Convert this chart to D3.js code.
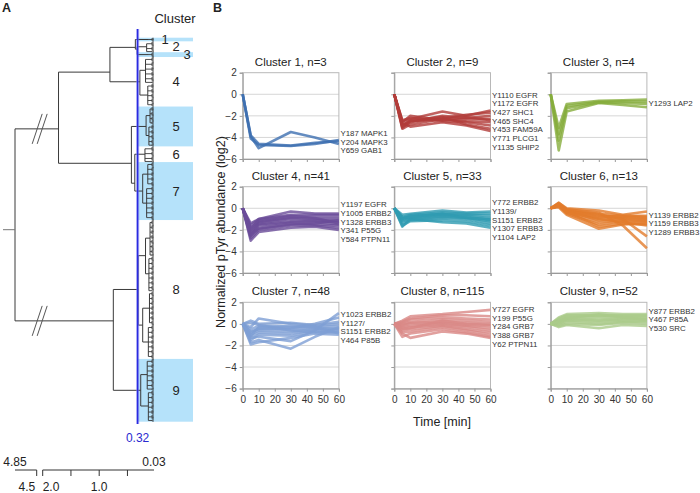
<!DOCTYPE html>
<html><head><meta charset="utf-8">
<script src="https://cdn.jsdelivr.net/npm/d3@7"></script>
<style>
body{margin:0;background:#fff;}
text{font-family:"Liberation Sans",Arial,sans-serif;}
</style>
</head><body>
<svg id="c" width="700" height="493"></svg>
<script>
// ---------------- DATA ----------------
const timePoints = [0, 5, 10, 30, 45, 60];
const xTicks = [0, 10, 20, 30, 40, 50, 60];
const yTicks = [2, 0, -2, -4, -6];
const clusterIds = [1, 2, 3, 4, 5, 6, 7, 8, 9];
const clusterSizes = [3, 9, 4, 41, 33, 13, 48, 115, 52];
const clusterColors = ["#3d6fb0", "#b23c3a", "#86ad3c", "#6a4c98", "#2f9bb2", "#e27c2c", "#7e9fd4", "#d98886", "#aacb8a"];
const highlightedClusters = [1, 3, 5, 7, 9];
const cutHeight = 0.32;

// dendrogram: leaf groups (ordered top to bottom), their cluster, size and merge height
const groupIds      = ["1", "2", "3", "4a", "4b", "5a", "5b", "6", "7a", "7b", "8a", "8b", "8c", "8d", "9a", "9b"];
const groupClusters = [1, 2, 3, 4, 4, 5, 5, 6, 7, 7, 8, 8, 8, 8, 9, 9];
const groupSizes    = [3, 9, 4, 22, 19, 15, 18, 13, 20, 28, 30, 29, 28, 28, 26, 26];
const groupHeights  = [0.12, 0.16, 0.12, 0.18, 0.14, 0.10, 0.12, 0.19, 0.14, 0.16, 0.10, 0.12, 0.11, 0.13, 0.15, 0.13];
const bundleHeight = 0.065;   // height of the smallest visible leaf bundles
const bundleSize = 4;
// merges: [child A, child B, height, new id]
const merges = [
  ["4a", "4b", 0.28, "c4"],
  ["5a", "5b", 0.17, "c5"],
  ["7a", "7b", 0.23, "c7"],
  ["8a", "8b", 0.18, "8ab"],
  ["8c", "8d", 0.23, "8cd"],
  ["8ab", "8cd", 0.31, "c8"],
  ["9a", "9b", 0.265, "c9"],
  ["2", "3", 0.33, "23"],
  ["1", "23", 0.36, "123"],
  ["123", "c4", 0.81, "1234"],
  ["6", "c7", 0.37, "67"],
  ["c5", "67", 0.43, "567"],
  ["1234", "567", 1.72, "1to7"],
  ["c8", "c9", 0.75, "89"],
  ["1to7", "89", 4.85, "root"]
];
const scaleTicksRight = [2.0, 1.5, 1.0, 0.5];
const scaleLabelsRight = [2.0, 1.0];
const scaleTicksLeft = [4.5];
const scaleEnds = [4.85, 0.03];

// time courses (log2), one row per representative line, at timePoints
const series1 = [
  [0, -3.9, -5.0, -3.5, -4.0, -4.6],
  [0, -4.1, -4.7, -4.8, -4.6, -4.25],
  [0, -3.8, -4.6, -4.75, -4.5, -4.35]
];
const series2 = [
  [0, -2.5, -2.3, -1.6, -2.0, -1.5],
  [0, -2.8, -2.5, -2.2, -1.9, -1.7],
  [0, -3.0, -2.6, -2.0, -2.2, -2.0],
  [0, -2.6, -2.0, -2.4, -2.3, -2.3],
  [0, -3.2, -2.8, -2.3, -2.5, -2.6],
  [0, -2.4, -2.2, -2.5, -2.6, -2.9],
  [0, -2.9, -2.4, -2.1, -2.8, -3.2],
  [0, -2.7, -3.0, -2.6, -2.9, -3.4],
  [0, -3.1, -2.5, -2.3, -2.1, -2.4]
];
const series3 = [
  [0, -3.1, -0.9, -0.6, -0.55, -0.5],
  [0, -3.7, -1.1, -0.7, -0.65, -0.7],
  [0, -4.3, -1.3, -0.75, -0.8, -0.9],
  [0, -5.2, -1.6, -0.8, -1.0, -1.2]
];
const series4 = [
  [0, -1.4, -1.0, -0.3, -0.5, -0.5],
  [0, -1.6, -1.0, -0.6, -0.6, -0.6],
  [0, -1.8, -1.2, -0.8, -0.8, -0.8],
  [0, -2.0, -1.3, -0.9, -1.0, -1.0],
  [0, -2.2, -1.4, -1.0, -1.1, -1.2],
  [0, -2.3, -1.5, -1.2, -1.2, -1.3],
  [0, -2.5, -1.6, -1.3, -1.3, -1.5],
  [0, -2.6, -1.8, -1.4, -1.5, -1.6],
  [0, -2.8, -2.0, -1.6, -1.6, -1.8],
  [0, -3.0, -2.2, -1.8, -1.7, -2.0],
  [0, -2.4, -1.9, -1.5, -1.4, -1.1],
  [0, -1.9, -1.1, -0.7, -0.9, -1.4]
];
const series5 = [
  [0, -0.6, -0.5, -0.2, -0.4, -0.3],
  [0, -0.8, -0.6, -0.4, -0.5, -0.5],
  [0, -0.9, -0.7, -0.5, -0.6, -0.7],
  [0, -1.0, -0.8, -0.6, -0.7, -0.9],
  [0, -1.1, -0.9, -0.7, -0.8, -1.1],
  [0, -1.2, -1.0, -0.8, -0.9, -1.2],
  [0, -1.4, -1.1, -0.9, -1.0, -1.4],
  [0, -1.6, -1.2, -1.1, -1.2, -1.6],
  [0, -1.7, -1.0, -1.3, -1.4, -1.8],
  [0, -0.9, -0.8, -0.5, -0.9, -1.0]
];
const series6 = [
  [0, 0.5, 0.0, -0.2, -0.6, -0.3],
  [0, 0.4, -0.1, -0.5, -0.7, -0.7],
  [0, 0.3, -0.2, -0.7, -0.8, -0.9],
  [0, 0.3, -0.3, -0.9, -0.9, -1.0],
  [0, 0.2, -0.2, -1.1, -1.0, -1.1],
  [0, 0.4, -0.4, -1.3, -1.1, -1.2],
  [0, 0.2, -0.5, -1.5, -1.2, -1.3],
  [0, 0.3, -0.3, -1.7, -1.4, -1.5],
  [0, 0.1, -0.6, -1.9, -1.5, -1.4],
  [0, 0.3, -0.2, -0.6, -1.0, -2.6],
  [0, 0.5, -0.1, -0.4, -1.6, -3.7],
  [0, 0.2, -0.4, -1.0, -1.3, -1.6],
  [0, 0.3, -0.2, -0.8, -0.7, -0.8]
];
const series7 = [
  [0, 0.3, 0.0, 0.1, -0.1, 0.2],
  [0, -0.3, 0.5, 0.0, -0.2, 0.0],
  [0, -0.5, -0.2, -0.3, -0.3, -0.2],
  [0, -0.8, -0.4, -0.5, -0.4, -0.4],
  [0, -1.0, -0.6, -0.7, -0.5, -0.5],
  [0, -1.2, -0.8, -0.9, -0.6, -0.6],
  [0, -1.5, -1.0, -1.1, -0.7, -0.8],
  [0, -1.9, -1.7, -1.3, -0.9, -1.0],
  [0, -1.7, -1.5, -2.3, -1.2, -0.3],
  [0, -1.3, -1.2, -1.6, -0.6, 1.0],
  [0, -0.7, -0.5, -0.4, 0.0, 0.6],
  [0, -1.1, -0.3, -0.2, -0.3, -0.9],
  [0, 0.1, -0.1, -0.6, -0.8, -0.7]
];
const series8 = [
  [0, 0.3, 0.7, 0.9, 1.1, 1.3],
  [0, 0.2, 0.5, 0.8, 0.8, 0.7],
  [0, 0.1, 0.4, 0.6, 0.5, 0.4],
  [0, 0.0, 0.2, 0.4, 0.3, 0.2],
  [0, -0.1, 0.1, 0.2, 0.1, 0.0],
  [0, -0.2, 0.0, 0.1, -0.1, -0.2],
  [0, -0.3, -0.2, 0.0, -0.2, -0.4],
  [0, -0.4, -0.3, -0.1, -0.3, -0.6],
  [0, -0.6, -0.5, -0.2, -0.5, -0.8],
  [0, -0.8, -0.7, -0.3, -0.6, -1.0],
  [0, -1.2, -0.9, -0.5, -0.8, -1.2],
  [0, -0.9, -1.3, -0.7, -0.9, -1.3],
  [0, -0.5, -0.4, 0.3, 0.0, -0.1]
];
const series9 = [
  [0, 0.6, 0.9, 1.0, 0.9, 0.9],
  [0, 0.5, 0.8, 0.8, 0.8, 0.8],
  [0, 0.4, 0.7, 0.7, 0.7, 0.7],
  [0, 0.3, 0.6, 0.6, 0.6, 0.6],
  [0, 0.2, 0.5, 0.4, 0.5, 0.5],
  [0, 0.1, 0.4, 0.3, 0.4, 0.4],
  [0, 0.0, 0.3, 0.2, 0.3, 0.3],
  [0, -0.1, 0.2, 0.0, 0.2, 0.2],
  [0, -0.2, 0.0, -0.1, 0.1, 0.0],
  [0, -0.3, -0.1, -0.4, -0.1, -0.2],
  [0, 0.2, 0.5, 0.9, 0.6, 0.4]
];
const sites1 = ["Y187 MAPK1", "Y204 MAPK3", "Y659 GAB1"];
const sites2 = ["Y1110 EGFR", "Y1172 EGFR", "Y427 SHC1", "Y465 SHC4", "Y453 FAM59A", "Y771 PLCG1", "Y1135 SHIP2"];
const sites3 = ["Y1293 LAP2"];
const sites4 = ["Y1197 EGFR", "Y1005 ERBB2", "Y1328 ERBB3", "Y341 P55G", "Y584 PTPN11"];
const sites5 = ["Y772 ERBB2", "Y1139/", "S1151 ERBB2", "Y1307 ERBB3", "Y1104 LAP2"];
const sites6 = ["Y1139 ERBB2", "Y1159 ERBB3", "Y1289 ERBB3"];
const sites7 = ["Y1023 ERBB2", "Y1127/", "S1151 ERBB2", "Y464 P85B"];
const sites8 = ["Y727 EGFR", "Y199 P55G", "Y284 GRB7", "Y388 GRB7", "Y62 PTPN11"];
const sites9 = ["Y877 ERBB2", "Y467 P85A", "Y530 SRC"];

const allSeries = [series1, series2, series3, series4, series5, series6, series7, series8, series9];
const allSites = [sites1, sites2, sites3, sites4, sites5, sites6, sites7, sites8, sites9];

// ---------------- DRAW ----------------
const svg = d3.select("#c");
const ink = "#222";

svg.append("text").attr("x", 2).attr("y", 12).attr("font-size", 12.5).attr("font-weight", "bold").attr("fill", ink).text("A");
svg.append("text").attr("x", 213).attr("y", 12).attr("font-size", 12.5).attr("font-weight", "bold").attr("fill", ink).text("B");

// ===== Panel A: dendrogram =====
const dX = d3.scaleLinear().domain([4.85, 4.5, 2.0, 0.03]).range([15, 36.7, 42.7, 154]);
const totalLeaves = d3.sum(groupSizes);
const leafY = d3.scaleLinear().domain([0, totalLeaves]).range([37.7, 421.7]);
const hlRight = 193;

// cluster leaf ranges
const clusterStart = {};
let acc = 0;
clusterIds.forEach((c, i) => { clusterStart[c] = acc; acc += clusterSizes[i]; });

const gA = svg.append("g");
// highlights
gA.selectAll("rect.hl").data(highlightedClusters).join("rect")
  .attr("x", dX(cutHeight)).attr("width", hlRight - dX(cutHeight))
  .attr("y", c => leafY(clusterStart[c]))
  .attr("height", c => leafY(clusterStart[c] + clusterSizes[c - 1]) - leafY(clusterStart[c]))
  .attr("fill", "#b5e2fa");

// build nodes
const nodes = {};
let off = 0;
groupIds.forEach((id, i) => {
  const n = groupSizes[i];
  nodes[id] = { h: groupHeights[i], start: off, size: n, y: leafY(off + n / 2), leaf: true };
  off += n;
});
merges.forEach(([a, b, h, id]) => {
  const A = nodes[a], B = nodes[b];
  nodes[id] = { h, size: A.size + B.size, y: (A.y * A.size + B.y * B.size) / (A.size + B.size), kids: [A, B] };
});
const treeColor = "#3a3a3a";
const gT = gA.append("g").attr("stroke", treeColor).attr("fill", "none");
// leaf groups: group node -> small bundles -> leaves
const xb = dX(bundleHeight), xl = dX(0.03);
groupIds.forEach(id => {
  const n = nodes[id];
  const x0 = dX(n.h);
  const bundles = [];
  for (let s = 0; s < n.size; s += bundleSize) bundles.push([s, Math.min(n.size, s + bundleSize)]);
  const centers = bundles.map(([a, b]) => leafY(n.start + (a + b) / 2));
  gT.append("line").attr("x1", x0).attr("x2", x0)
    .attr("y1", centers[0]).attr("y2", centers[centers.length - 1]).attr("stroke-width", 1);
  bundles.forEach(([a, b], bi) => {
    gT.append("line").attr("x1", x0).attr("x2", xb).attr("y1", centers[bi]).attr("y2", centers[bi]).attr("stroke-width", 0.9);
    gT.append("line").attr("x1", xb).attr("x2", xb)
      .attr("y1", leafY(n.start + a + 0.5)).attr("y2", leafY(n.start + b - 0.5)).attr("stroke-width", 0.9);
    d3.range(a, b).forEach(k => {
      gT.append("line").attr("x1", xb).attr("x2", xl)
        .attr("y1", leafY(n.start + k + 0.5)).attr("y2", leafY(n.start + k + 0.5))
        .attr("stroke-width", 0.6).attr("stroke", "#222");
    });
  });
});
// internal links
merges.forEach(([a, b, h, id]) => {
  const N = nodes[id];
  const x = dX(h);
  gT.append("line").attr("x1", x).attr("x2", x).attr("y1", N.kids[0].y).attr("y2", N.kids[1].y).attr("stroke-width", 1);
  N.kids.forEach(k => {
    gT.append("line").attr("x1", x).attr("x2", dX(k.h)).attr("y1", k.y).attr("y2", k.y).attr("stroke-width", 1);
  });
});
// root stub
const root = nodes["root"];
gT.append("line").attr("x1", 3).attr("x2", dX(root.h)).attr("y1", root.y).attr("y2", root.y).attr("stroke-width", 1).attr("stroke", "#777");
// break marks on root branches
const bx = (dX(4.5) + dX(2.0)) / 2;
root.kids.forEach(k => {
  [-2.5, 2.5].forEach(dx => {
    gT.append("line").attr("x1", bx + dx - 5).attr("y1", k.y + 15).attr("x2", bx + dx + 5).attr("y2", k.y - 15)
      .attr("stroke-width", 1).attr("stroke", "#555");
  });
});
// cut line
const cx = dX(cutHeight);
gA.append("line").attr("x1", cx).attr("x2", cx).attr("y1", 29).attr("y2", 424)
  .attr("stroke", "#7f7ff0").attr("stroke-width", 3.2).attr("opacity", 0.55);
gA.append("line").attr("x1", cx).attr("x2", cx).attr("y1", 29).attr("y2", 424)
  .attr("stroke", "#2a2ae0").attr("stroke-width", 1.4);
gA.append("text").attr("x", cx).attr("y", 441.5).attr("text-anchor", "middle")
  .attr("font-size", 12).attr("fill", "#2a2ad0").text(cutHeight.toFixed(2));

// cluster labels
gA.append("text").attr("x", 175).attr("y", 23).attr("text-anchor", "middle").attr("font-size", 13).attr("fill", ink).text("Cluster");
const labelShift = { 1: -11, 3: 11 };
gA.selectAll("text.cl").data(clusterIds).join("text")
  .attr("x", c => 176 + (labelShift[c] || 0))
  .attr("y", c => leafY(clusterStart[c] + clusterSizes[c - 1] / 2) + 4.5)
  .attr("text-anchor", "middle").attr("font-size", 13).attr("fill", ink).text(c => c);

// distance scale axis
const axY = 470;
const gS = gA.append("g").attr("stroke", "#333").attr("fill", "none");
gS.append("line").attr("x1", dX(4.85)).attr("x2", dX(4.5)).attr("y1", axY).attr("y2", axY);
gS.append("line").attr("x1", dX(2.0)).attr("x2", dX(0.03)).attr("y1", axY).attr("y2", axY);
scaleTicksLeft.concat(scaleTicksRight).forEach(t => {
  gS.append("line").attr("x1", dX(t)).attr("x2", dX(t)).attr("y1", axY).attr("y2", axY + 6);
});
const fmt = d3.format(".2f"), fmt1 = d3.format(".1f");
gA.append("text").attr("x", dX(scaleEnds[0])).attr("y", 466).attr("text-anchor", "middle").attr("font-size", 12).attr("fill", ink).text(fmt(scaleEnds[0]));
gA.append("text").attr("x", dX(scaleEnds[1])).attr("y", 466).attr("text-anchor", "middle").attr("font-size", 12).attr("fill", ink).text(fmt(scaleEnds[1]));
gA.append("text").attr("x", dX(scaleTicksLeft[0]) - 1.5).attr("y", 491).attr("text-anchor", "end").attr("font-size", 12).attr("fill", ink).text(fmt1(scaleTicksLeft[0]));
scaleLabelsRight.forEach((t, i) => {
  gA.append("text").attr("x", dX(t)).attr("y", 491).attr("text-anchor", i === 0 ? "start" : "middle")
    .attr("font-size", 12).attr("fill", ink).text(fmt1(t));
});

// ===== Panel B: small multiples =====
const colX = [242.7, 394.3, 550.7];
const rowY = [72.7, 186.7, 302.3];
const pw = 96.2, ph = 86.3;
const x = d3.scaleLinear().domain([0, 60]).range([0, pw]);
const y = d3.scaleLinear().domain([-6, 2]).range([ph, 0]);
const line = d3.line().x((d, i) => x(timePoints[i])).y(d => y(d));

clusterIds.forEach((c, i) => {
  const col = i % 3, row = Math.floor(i / 3);
  const g = svg.append("g").attr("transform", `translate(${colX[col]},${rowY[row]})`);
  // gridlines
  g.selectAll("line.grid").data(yTicks.slice(1, -1)).join("line")
    .attr("x1", 0).attr("x2", pw).attr("y1", d => y(d)).attr("y2", d => y(d))
    .attr("stroke", "#d6d6d6").attr("stroke-width", 1);
  g.append("rect").attr("x", 0).attr("y", 0).attr("width", pw).attr("height", ph)
    .attr("fill", "none").attr("stroke", "#b8b8b8").attr("stroke-width", 1);
  // axes
  const ax = g.append("g").call(d3.axisLeft(y).tickValues(yTicks).tickSize(3).tickPadding(3)
    .tickFormat(col === 0 ? d3.format("d") : () => ""));
  ax.select(".domain").attr("stroke", "#9a9a9a");
  ax.selectAll(".tick line").attr("stroke", "#9a9a9a");
  ax.selectAll("text").attr("font-size", 10).attr("fill", "#333").attr("font-family", "Liberation Sans, Arial, sans-serif");
  const bx2 = g.append("g").attr("transform", `translate(0,${ph})`)
    .call(d3.axisBottom(x).tickValues(xTicks).tickSize(3).tickPadding(4)
      .tickFormat(row === 2 ? d3.format("d") : () => ""));
  bx2.select(".domain").attr("stroke", "#9a9a9a");
  bx2.selectAll(".tick line").attr("stroke", "#9a9a9a");
  bx2.selectAll("text").attr("font-size", 10).attr("fill", "#333").attr("font-family", "Liberation Sans, Arial, sans-serif");
  // lines
  g.append("g").selectAll("path").data(allSeries[i]).join("path")
    .attr("d", line).attr("fill", "none").attr("stroke", clusterColors[i])
    .attr("stroke-width", 2.6).attr("stroke-opacity", 0.8).attr("stroke-linejoin", "round");
  // title
  g.append("text").attr("x", pw / 2).attr("y", -7).attr("text-anchor", "middle")
    .attr("font-size", 11.5).attr("fill", ink).text(`Cluster ${c}, n=${clusterSizes[i]}`);
  // site labels, centred on the mean end value
  const sites = allSites[i];
  const endMean = d3.mean(allSeries[i], s => s[s.length - 1]);
  const lh = 8.65;
  const y0 = y(endMean) - (sites.length - 1) * lh / 2;
  g.selectAll("text.site").data(sites).join("text")
    .attr("x", pw + 1.5).attr("y", (d, k) => y0 + k * lh + 3)
    .attr("font-size", 7.9).attr("fill", "#333").text(d => d);
});

// axis titles
svg.append("text").attr("transform", "translate(225,232) rotate(-90)").attr("text-anchor", "middle")
  .attr("font-size", 12.5).attr("fill", ink).text("Normalized pTyr abundance (log2)");
svg.append("text").attr("x", 442).attr("y", 426).attr("text-anchor", "middle")
  .attr("font-size", 12.5).attr("fill", ink).text("Time [min]");
</script>
</body></html>
